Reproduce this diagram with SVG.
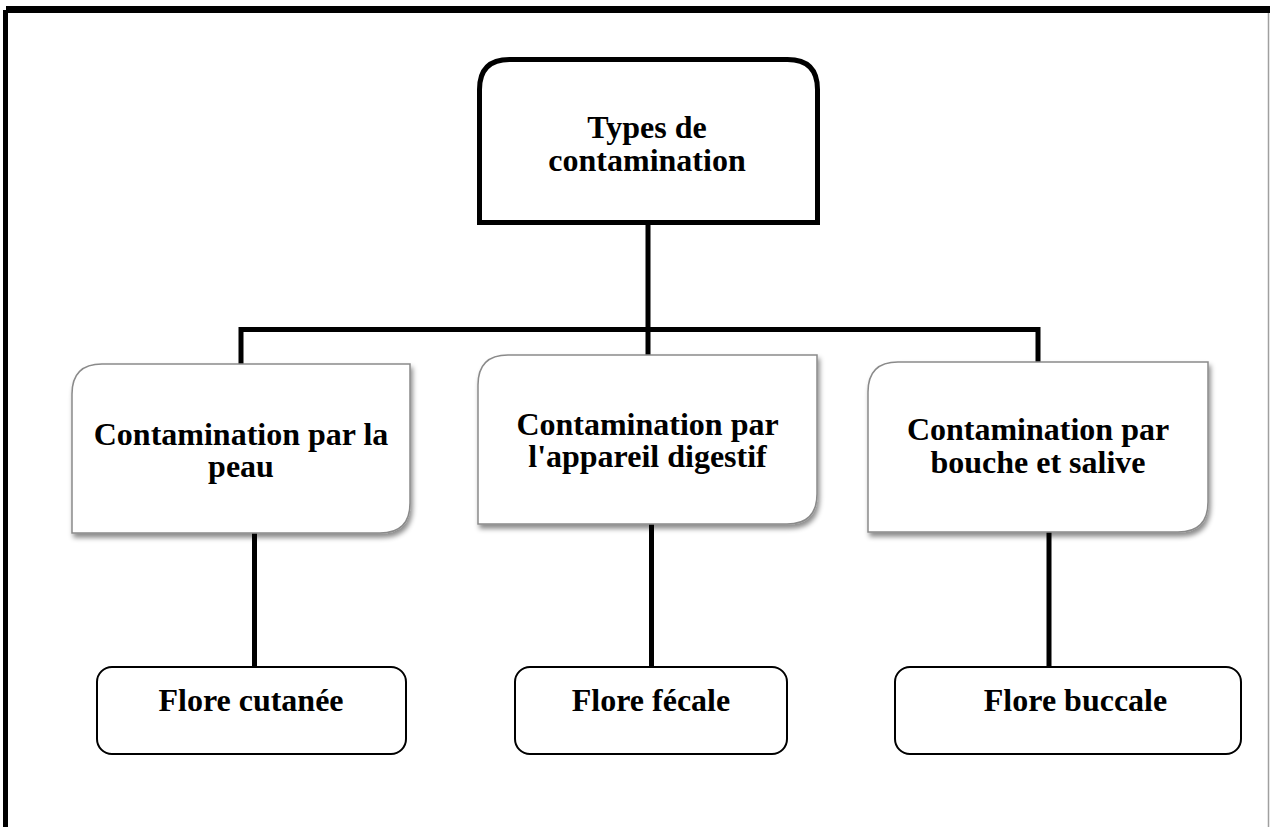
<svg xmlns="http://www.w3.org/2000/svg" width="1270" height="827" viewBox="0 0 1270 827">
<defs>
<filter id="sh" x="-10%" y="-10%" width="125%" height="130%">
<feDropShadow dx="2" dy="4" stdDeviation="2.5" flood-color="#000" flood-opacity="0.45"/>
</filter>
</defs>
<style>
text{font-family:"Liberation Serif","Times New Roman",serif;font-weight:bold;font-size:32px;fill:#000;text-anchor:middle}
.mid{fill:#fff;stroke:#8a8a8a;stroke-width:1.5}
.leaf{fill:#fff;stroke:#000;stroke-width:2}
.conn{stroke:#000;stroke-width:5;fill:none}
</style>
<rect x="0" y="0" width="1270" height="827" fill="#fff"/>
<g id="frame">
<rect x="6" y="6" width="1264" height="7" fill="#000"/>
<rect x="3" y="10" width="5" height="817" fill="#000"/>
<line x1="1268.5" y1="13" x2="1268.5" y2="827" stroke="#a0a0a0" stroke-width="1.5"/>
</g>
<g id="connectors">
<path class="conn" d="M648 222 V356"/>
<path class="conn" d="M241 366 V329.5 H1038 V364"/>
<path class="conn" d="M254.5 533 V667"/>
<path class="conn" d="M651.5 522 V667"/>
<path class="conn" d="M1049 531 V667"/>
</g>
<g id="root">
<path d="M479.5 222.5 V89.5 Q479.5 59.5 509.5 59.5 H787.5 Q817.5 59.5 817.5 89.5 V222.5 Z" fill="#fff" stroke="#000" stroke-width="5"/>
<text x="647" y="138">Types de</text>
<text x="647" y="171">contamination</text>
</g>
<g id="peau">
<path class="mid" filter="url(#sh)" d="M72 533 V394 Q72 364 102 364 H410 V503 Q410 533 380 533 Z"/>
<text x="241" y="445">Contamination par la</text>
<text x="241" y="477">peau</text>
</g>
<g id="digestif">
<path class="mid" filter="url(#sh)" d="M478 524 V385 Q478 355 508 355 H817 V494 Q817 524 787 524 Z"/>
<text x="647.5" y="435">Contamination par</text>
<text x="647.5" y="467">l'appareil digestif</text>
</g>
<g id="bouche">
<path class="mid" filter="url(#sh)" d="M868 532 V392 Q868 362 898 362 H1208 V502 Q1208 532 1178 532 Z"/>
<text x="1038" y="440">Contamination par</text>
<text x="1038" y="473">bouche et salive</text>
</g>
<g id="cutanee">
<rect class="leaf" x="97" y="667" width="309" height="87" rx="15"/>
<text x="251" y="711">Flore cutanée</text>
</g>
<g id="fecale">
<rect class="leaf" x="515" y="667" width="272" height="87" rx="15"/>
<text x="651" y="711">Flore fécale</text>
</g>
<g id="buccale">
<rect class="leaf" x="895" y="667" width="346" height="87" rx="15"/>
<text x="1075.5" y="711">Flore buccale</text>
</g>
</svg>
